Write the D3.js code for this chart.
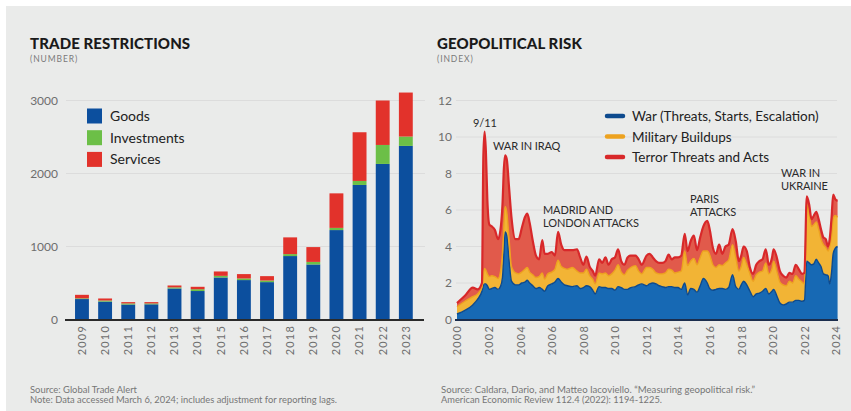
<!DOCTYPE html>
<html>
<head>
<meta charset="utf-8">
<script src="https://cdn.jsdelivr.net/npm/d3@7/dist/d3.min.js"></script>
<style>
  html, body { margin: 0; padding: 0; background: #ffffff; }
  svg { display: block; }
  text { font-family: Lato, "Open Sans", sans-serif; }
</style>
</head>
<body>
<svg id="chart" width="851" height="411"></svg>
<script>
// ---- Trade restrictions (number per year) ----
const tradeYears = ["2009","2010","2011","2012","2013","2014","2015","2016","2017","2018","2019","2020","2021","2022","2023"];
const goods       = [280, 245, 205, 208, 425, 390, 576, 540, 512, 869, 754, 1225, 1843, 2131, 2378];
const investments = [ 10,  15,  15,  12,  15,  25,  22,  22,  22,  27,  35,   30,   55,  260,  128];
const services    = [ 48,  28,  18,  18,  26,  33,  60,  60,  60, 229, 203,  473,  667,  609,  603];
const tradeTicks  = [0, 1000, 2000, 3000];

// ---- Geopolitical risk index, by component ----
const riskDates = [
  2000.0, 2000.5, 2001.0, 2001.3, 2001.58, 2001.67, 2001.75, 2001.83, 2001.92, 2002.05,
  2002.2, 2002.4, 2002.6, 2002.75, 2002.88, 2002.97, 2003.05, 2003.15, 2003.3, 2003.45,
  2003.7, 2003.9, 2004.1, 2004.3,
  2004.45, 2004.6, 2004.8, 2005.0, 2005.2, 2005.4, 2005.55, 2005.75, 2006.0, 2006.2,
  2006.4, 2006.6, 2006.8, 2007.0, 2007.3, 2007.6, 2007.8, 2008.0, 2008.2, 2008.4,
  2008.6, 2008.75, 2009.0, 2009.2, 2009.4, 2009.6, 2009.8, 2010.0, 2010.2, 2010.4,
  2010.6, 2010.8, 2011.0, 2011.3, 2011.5, 2011.7, 2012.0, 2012.2, 2012.4, 2012.6,
  2012.8, 2013.0, 2013.2, 2013.4, 2013.6, 2013.8, 2014.0, 2014.2, 2014.42, 2014.6,
  2014.8, 2015.0, 2015.2, 2015.4, 2015.6, 2015.85, 2016.0, 2016.2, 2016.4, 2016.6,
  2016.8, 2017.0, 2017.2, 2017.45, 2017.65, 2017.85, 2018.0, 2018.15, 2018.35, 2018.55,
  2018.75, 2018.95, 2019.15, 2019.35, 2019.55, 2019.75, 2019.95, 2020.05, 2020.25, 2020.45,
  2020.65, 2020.85, 2021.05, 2021.25, 2021.45, 2021.65, 2021.85, 2022.0, 2022.15, 2022.3,
  2022.45, 2022.6, 2022.75, 2022.9, 2023.05, 2023.2, 2023.35, 2023.5, 2023.6, 2023.72,
  2023.82, 2023.95, 2024.1
];
const warRisk = [
  0.30, 0.50, 0.80, 1.10, 1.55, 1.85, 1.95, 1.95, 1.85, 1.65,
  1.70, 1.75, 1.65, 1.80, 2.30, 3.60, 4.80, 4.60, 3.20, 2.10,
  1.90, 1.90, 2.00, 2.05,
  2.15, 2.00, 1.85, 1.70, 1.75, 1.65, 1.55, 1.85, 1.95, 2.05,
  2.25, 2.05, 1.90, 1.85, 1.80, 1.85, 1.70, 1.75, 1.85, 1.80,
  1.60, 1.40, 1.80, 1.75, 1.75, 1.70, 1.70, 1.60, 1.80, 1.75,
  1.65, 1.65, 1.75, 1.80, 1.90, 1.95, 1.85, 1.95, 2.00, 1.95,
  1.85, 1.80, 1.75, 1.80, 1.80, 1.75, 1.75, 1.65, 2.00, 1.35,
  1.70, 1.65, 1.50, 1.85, 2.25, 2.00, 1.70, 1.60, 1.65, 1.70,
  1.70, 1.65, 1.75, 2.45, 1.80, 1.65, 1.90, 2.10, 1.90, 1.55,
  1.25, 1.40, 1.45, 1.55, 1.70, 1.40, 1.55, 1.65, 1.30, 0.90,
  0.80, 0.85, 0.95, 0.95, 1.05, 1.05, 1.00, 1.05, 3.20, 3.10,
  3.00, 3.05, 3.30, 3.10, 2.90, 2.50, 2.45, 2.40, 1.95, 2.60,
  3.60, 3.90, 4.00
];
const buildupRisk = [
  0.40, 0.50, 0.45, 0.30, 0.20, 0.65, 0.85, 0.75, 0.65, 0.70,
  0.70, 0.60, 0.60, 0.80, 1.40, 1.60, 1.40, 1.30, 1.20, 0.80,
  0.65, 0.60, 0.60, 0.70,
  0.70, 0.60, 0.60, 0.60, 0.60, 0.90, 0.65, 0.65, 0.65, 0.70,
  1.00, 0.85, 0.90, 0.90, 1.05, 0.80, 0.85, 0.80, 0.90, 0.60,
  0.60, 0.55, 0.75, 0.75, 0.80, 0.70, 0.80, 1.10, 1.20, 0.85,
  0.80, 1.05, 1.10, 1.15, 0.75, 0.55, 1.00, 0.90, 0.75, 0.60,
  0.65, 0.70, 0.80, 0.95, 0.90, 0.80, 0.85, 1.00, 1.75, 1.60,
  1.50, 1.70, 1.50, 1.55, 1.50, 1.75, 1.85, 1.40, 1.20, 1.30,
  1.25, 1.45, 1.50, 1.65, 1.60, 1.00, 1.00, 1.30, 1.10, 0.95,
  0.85, 1.05, 1.15, 1.10, 1.40, 1.10, 1.25, 1.55, 1.35, 1.15,
  1.10, 1.00, 1.15, 1.05, 1.35, 1.15, 1.05, 0.90, 3.10, 2.70,
  2.10, 2.15, 2.05, 1.85, 1.50, 1.60, 1.50, 1.35, 2.05, 2.00,
  1.90, 1.80, 1.60
];
const terrorRisk = [
  0.20, 0.30, 0.50, 0.25, 0.25, 6.50, 7.50, 6.50, 4.10, 2.85,
  2.70, 2.55, 2.15, 2.30, 2.60, 3.10, 2.80, 2.90, 2.80, 2.70,
  1.85, 1.90, 2.40, 2.85,
  2.95, 2.70, 1.85, 1.20, 0.95, 1.80, 1.40, 1.10, 1.10, 0.75,
  1.55, 1.20, 1.00, 1.05, 0.95, 1.20, 0.85, 0.45, 0.70, 0.50,
  0.45, 0.45, 0.75, 0.60, 0.85, 0.60, 0.80, 0.70, 0.85, 0.60,
  0.55, 0.70, 0.65, 0.55, 0.65, 0.50, 0.65, 0.75, 0.65, 0.65,
  0.60, 0.60, 0.65, 0.80, 0.60, 0.85, 0.80, 0.85, 0.95, 0.80,
  1.10, 1.25, 0.80, 1.10, 1.35, 1.65, 1.40, 0.95, 0.75, 1.10,
  0.65, 0.90, 0.85, 0.85, 0.90, 0.55, 0.60, 0.60, 0.75, 0.35,
  0.40, 0.55, 0.60, 0.65, 0.75, 0.50, 0.60, 0.65, 0.75, 0.60,
  0.50, 0.45, 0.45, 0.50, 0.60, 0.55, 0.45, 0.60, 0.45, 0.50,
  0.40, 0.50, 0.55, 0.55, 0.55, 0.40, 0.45, 0.25, 0.40, 1.00,
  1.35, 0.90, 0.90
];
const riskTicks = [0, 2, 4, 6, 8, 10, 12];
const riskYearTicks = [2000, 2002, 2004, 2006, 2008, 2010, 2012, 2014, 2016, 2018, 2020, 2022, 2024];

const svg = d3.select("#chart");

// panel background
svg.append("rect").attr("x", 6).attr("y", 6).attr("width", 845).attr("height", 405).attr("fill", "#eaebea");

const axisGray = "#6e6e6e";
const gridColor = "#dcdcdc";

function titleBlock(x, title, sub) {
  svg.append("text").attr("x", x).attr("y", 49).text(title)
    .attr("font-size", 15).attr("font-weight", 900).attr("fill", "#1a1a1a").attr("letter-spacing", 0.1);
  svg.append("text").attr("x", x).attr("y", 62).text(sub)
    .attr("font-size", 8.5).attr("fill", "#7a7a7a").attr("letter-spacing", 0.9);
}

// ================= Left: trade restrictions =================
titleBlock(30, "TRADE RESTRICTIONS", "(NUMBER)");

const xT = d3.scaleBand().domain(tradeYears).range([70.4, 417.4]).paddingInner(0.4).paddingOuter(0.2);
const yT = d3.scaleLinear().domain([0, 3000]).range([319.5, 100.5]);

const gT = svg.append("g");
gT.selectAll("line.grid").data(tradeTicks.filter(d => d > 0)).join("line")
  .attr("x1", 66).attr("x2", 425).attr("y1", d => yT(d)).attr("y2", d => yT(d))
  .attr("stroke", gridColor).attr("stroke-width", 1);

const yAxisT = d3.axisLeft(yT).tickValues(tradeTicks).tickFormat(d3.format("d")).tickSize(0).tickPadding(0);
gT.append("g").attr("transform", "translate(58,0)").call(yAxisT)
  .call(g => g.select(".domain").remove())
  .call(g => g.selectAll("text").attr("font-family", "Lato, sans-serif").attr("font-size", 12).attr("fill", axisGray));

const tradeRows = tradeYears.map((y, i) => ({ year: y, goods: goods[i], investments: investments[i], services: services[i] }));
const tradeKeys = ["goods", "investments", "services"];
const tradeColors = { goods: "#0c4f9e", investments: "#6cbf47", services: "#e2322b" };
const tradeStack = d3.stack().keys(tradeKeys)(tradeRows);

gT.selectAll("g.layer").data(tradeStack).join("g").attr("fill", d => tradeColors[d.key])
  .selectAll("rect").data(d => d).join("rect")
  .attr("x", d => xT(d.data.year)).attr("width", xT.bandwidth())
  .attr("y", d => yT(d[1])).attr("height", d => yT(d[0]) - yT(d[1]));

gT.append("line").attr("x1", 65).attr("x2", 424).attr("y1", 320).attr("y2", 320)
  .attr("stroke", "#2a2a2a").attr("stroke-width", 2);

const xAxisT = d3.axisBottom(xT).tickSize(0).tickPadding(0);
gT.append("g").attr("transform", "translate(0,325)").call(xAxisT)
  .call(g => g.select(".domain").remove())
  .call(g => g.selectAll("text")
    .attr("transform", "rotate(-90)").attr("text-anchor", "end").attr("dy", "0.35em").attr("dx", 0).attr("x", 0).attr("y", 0)
    .attr("font-family", "Lato, sans-serif").attr("font-size", 11).attr("letter-spacing", 1.2).attr("fill", axisGray));

// legend
const legT = svg.append("g");
[["Goods", "goods"], ["Investments", "investments"], ["Services", "services"]].forEach(([label, key], i) => {
  const y = 108.5 + i * 21.7;
  legT.append("rect").attr("x", 87).attr("y", y).attr("width", 15).attr("height", 15).attr("fill", tradeColors[key]);
  legT.append("text").attr("x", 110).attr("y", y + 12.5).text(label).attr("font-size", 14).attr("fill", "#222");
});

// ================= Right: geopolitical risk =================
titleBlock(437, "GEOPOLITICAL RISK", "(INDEX)");

const xR = d3.scaleLinear().domain([2000, 2024]).range([457, 836]);
const yR = d3.scaleLinear().domain([0, 12]).range([319.5, 100.5]);

const gR = svg.append("g");
gR.selectAll("line.grid").data(riskTicks.filter(d => d > 0)).join("line")
  .attr("x1", 456).attr("x2", 837).attr("y1", d => yR(d)).attr("y2", d => yR(d))
  .attr("stroke", gridColor).attr("stroke-width", 1);

gR.append("g").attr("transform", "translate(452,0)")
  .call(d3.axisLeft(yR).tickValues(riskTicks).tickFormat(d3.format("d")).tickSize(0).tickPadding(0))
  .call(g => g.select(".domain").remove())
  .call(g => g.selectAll("text").attr("font-family", "Lato, sans-serif").attr("font-size", 12).attr("fill", axisGray));

const riskRows = riskDates.map((d, i) => ({ date: d, war: warRisk[i], buildup: buildupRisk[i], terror: terrorRisk[i] }));
const riskKeys = ["war", "buildup", "terror"];
const riskFill = { war: "#1769b4", buildup: "#f2b435", terror: "#e15a4b" };
const riskLine = { war: "#0d4a8e", buildup: "#eda21f", terror: "#d8282a" };
const riskStack = d3.stack().keys(riskKeys)(riskRows);

const area = d3.area().curve(d3.curveMonotoneX)
  .x(d => xR(d.data.date)).y0(d => yR(d[0])).y1(d => yR(d[1]));
const topLine = d3.line().curve(d3.curveMonotoneX)
  .x(d => xR(d.data.date)).y(d => yR(d[1]));

gR.selectAll("path.area").data(riskStack).join("path").attr("class", "area")
  .attr("d", area).attr("fill", d => riskFill[d.key]);
gR.selectAll("path.top").data(riskStack).join("path").attr("class", "top")
  .attr("d", topLine).attr("fill", "none")
  .attr("stroke", d => riskLine[d.key]).attr("stroke-width", d => d.key === "terror" ? 2.2 : 1.4)
  .attr("stroke-linejoin", "round");

gR.append("line").attr("x1", 455).attr("x2", 838).attr("y1", 320).attr("y2", 320)
  .attr("stroke", "#1b2d4d").attr("stroke-width", 2);

gR.append("g").attr("transform", "translate(0,325)")
  .call(d3.axisBottom(xR).tickValues(riskYearTicks).tickFormat(d3.format("d")).tickSize(0).tickPadding(0))
  .call(g => g.select(".domain").remove())
  .call(g => g.selectAll("text")
    .attr("transform", "rotate(-90)").attr("text-anchor", "end").attr("dy", "0.35em").attr("x", 0).attr("y", 0)
    .attr("font-family", "Lato, sans-serif").attr("font-size", 11).attr("letter-spacing", 1.2).attr("fill", axisGray));

// legend
const legR = svg.append("g");
[["War (Threats, Starts, Escalation)", "war"], ["Military Buildups", "buildup"], ["Terror Threats and Acts", "terror"]].forEach(([label, key], i) => {
  const y = 116 + i * 20.5;
  legR.append("line").attr("x1", 607).attr("x2", 623).attr("y1", y).attr("y2", y)
    .attr("stroke", riskLine[key]).attr("stroke-width", 4.5).attr("stroke-linecap", "round");
  legR.append("text").attr("x", 632).attr("y", y + 5).text(label).attr("font-size", 13.5).attr("fill", "#222");
});

// event annotations
const events = [
  { lines: ["9/11"], x: 473, y: 127 },
  { lines: ["WAR IN IRAQ"], x: 493, y: 150 },
  { lines: ["MADRID AND", "LONDON ATTACKS"], x: 543, y: 214 },
  { lines: ["PARIS", "ATTACKS"], x: 690, y: 203 },
  { lines: ["WAR IN", "UKRAINE"], x: 781, y: 177 }
];
events.forEach(ev => {
  ev.lines.forEach((t, i) => {
    svg.append("text").attr("x", ev.x).attr("y", ev.y + i * 13.3).text(t)
      .attr("font-size", 11).attr("fill", "#2a2a2a").attr("letter-spacing", -0.1);
  });
});

// sources
function note(x, y, t, len) {
  svg.append("text").attr("x", x).attr("y", y).text(t)
    .attr("font-family", "'Liberation Sans Narrow', 'DejaVu Sans Condensed', sans-serif")
    .attr("font-size", 10).attr("fill", "#767676")
    .attr("textLength", len).attr("lengthAdjust", "spacingAndGlyphs");
}
note(30, 392.5, "Source: Global Trade Alert", 107);
note(30, 403, "Note: Data accessed March 6, 2024; includes adjustment for reporting lags.", 307);
note(441, 392.5, "Source: Caldara, Dario, and Matteo Iacoviello. \u201CMeasuring geopolitical risk.\u201D", 314);
note(441, 403, "American Economic Review 112.4 (2022): 1194-1225.", 221);
</script>
</body>
</html>
